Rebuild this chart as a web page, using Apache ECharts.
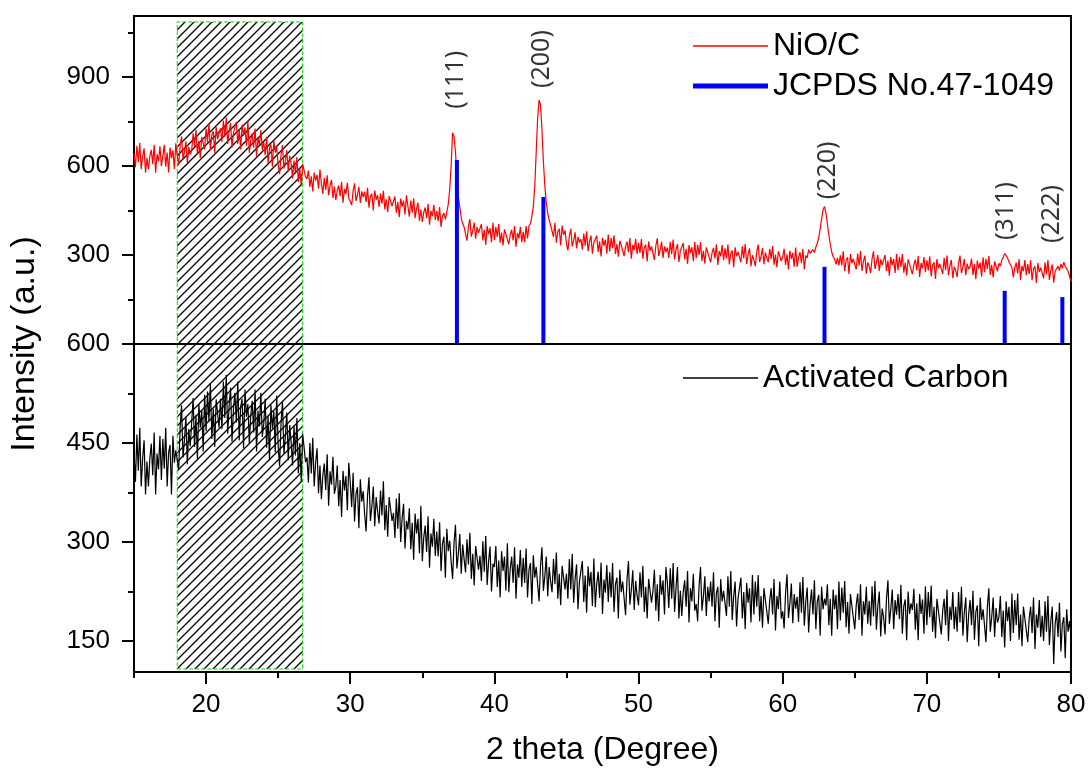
<!DOCTYPE html>
<html>
<head>
<meta charset="utf-8">
<script src="https://cdn.jsdelivr.net/npm/echarts@6/dist/echarts.min.js"></script>
<style>
  html, body { margin: 0; padding: 0; background: #fff; }
  #main { width: 1091px; height: 774px; }
</style>
</head>
<body>
<div id="main"></div>
<script>
// 2 theta sampling of the scans
var thetaStart = 15, thetaStep = 0.1;

// NiO/C scan, 15.0 .. 80.0 (one row per degree)
var nioC = [
  642, 596, 668, 613, 678, 589, 632, 659, 577, 627,
  589, 632, 654, 606, 671, 577, 639, 615, 666, 599,
  633, 671, 597, 645, 578, 662, 626, 652, 590, 676,
  633, 602, 667, 700, 621, 647, 683, 611, 664, 638,
  650, 710, 665, 722, 638, 684, 626, 698, 677, 655,
  726, 681, 743, 654, 705, 717, 642, 731, 690, 709,
  727, 681, 753, 698, 763, 674, 717, 744, 662, 712,
  710, 748, 674, 722, 655, 739, 703, 729, 667, 753,
  644, 687, 709, 661, 726, 632, 694, 670, 721, 654,
  681, 636, 698, 609, 660, 672, 597, 686, 645, 664,
  603, 572, 637, 670, 591, 617, 653, 581, 634, 608,
  558, 618, 573, 630, 546, 592, 534, 606, 585, 563,
  556, 584, 529, 565, 514, 577, 550, 570, 523, 588,
  541, 506, 560, 519, 568, 501, 533, 553, 492, 530,
  485, 517, 534, 498, 546, 476, 523, 505, 543, 492,
  491, 468, 516, 541, 482, 502, 529, 475, 514, 495,
  513, 479, 526, 459, 497, 506, 450, 517, 486, 501,
  462, 507, 473, 516, 453, 487, 444, 498, 482, 465,
  469, 497, 442, 478, 427, 490, 463, 483, 436, 501,
  464, 429, 483, 442, 491, 424, 456, 476, 415, 453,
  411, 443, 460, 424, 472, 402, 449, 431, 469, 418,
  448, 414, 461, 394, 432, 441, 420, 445, 470, 520,
  600, 712, 698, 648, 566, 495, 462, 425, 405, 394,
  371, 348, 396, 421, 362, 382, 409, 355, 394, 375,
  376, 404, 349, 385, 334, 397, 370, 390, 343, 408,
  350, 395, 361, 404, 341, 375, 332, 386, 370, 353,
  336, 368, 385, 349, 397, 327, 374, 356, 394, 343,
  378, 343, 397, 356, 398, 405, 430, 462, 530, 645,
  760, 822, 805, 722, 615, 532, 476, 441, 418, 400,
  395, 361, 408, 341, 379, 388, 332, 399, 368, 383,
  338, 315, 363, 388, 329, 349, 376, 322, 361, 342,
  353, 318, 372, 331, 380, 313, 345, 365, 304, 342,
  337, 365, 310, 346, 295, 358, 331, 351, 304, 369,
  312, 357, 323, 366, 303, 337, 294, 348, 332, 315,
  296, 328, 345, 309, 357, 287, 334, 316, 354, 303,
  341, 307, 354, 287, 325, 334, 278, 345, 314, 329,
  306, 283, 331, 356, 297, 317, 344, 290, 329, 310,
  325, 290, 344, 303, 352, 285, 317, 337, 276, 314,
  312, 340, 285, 321, 270, 333, 306, 326, 279, 344,
  289, 334, 300, 343, 280, 314, 271, 325, 309, 292,
  275, 307, 324, 288, 336, 266, 313, 295, 333, 282,
  322, 288, 335, 268, 306, 315, 259, 326, 295, 310,
  310, 275, 329, 288, 337, 270, 302, 322, 261, 299,
  285, 262, 310, 335, 276, 296, 323, 269, 308, 289,
  276, 321, 287, 330, 267, 301, 258, 312, 296, 279,
  293, 321, 266, 302, 251, 314, 287, 307, 260, 325,
  260, 292, 309, 273, 321, 251, 298, 290, 318, 305,
  302, 318, 308, 326, 340, 358, 388, 421, 452, 463,
  442, 405, 368, 336, 310, 294, 286, 268, 290, 265,
  299, 265, 312, 245, 283, 292, 236, 303, 272, 287,
  286, 251, 305, 264, 313, 246, 278, 298, 237, 275,
  262, 239, 287, 312, 253, 273, 300, 246, 285, 266,
  272, 300, 245, 281, 230, 293, 266, 286, 239, 304,
  249, 294, 260, 303, 240, 274, 231, 285, 269, 252,
  235, 267, 284, 248, 296, 226, 273, 255, 293, 242,
  282, 248, 295, 228, 266, 275, 219, 286, 255, 270,
  271, 236, 290, 249, 298, 231, 263, 283, 222, 260,
  248, 225, 273, 298, 239, 259, 286, 232, 271, 252,
  260, 288, 233, 269, 218, 281, 254, 274, 227, 292,
  242, 287, 253, 296, 233, 267, 224, 278, 262, 245,
  272, 262, 283, 292, 305, 299, 290, 276, 270, 258,
  225, 257, 274, 238, 286, 216, 263, 245, 283, 232,
  269, 235, 282, 215, 253, 262, 206, 273, 242, 257,
  256, 221, 275, 234, 283, 216, 248, 268, 207, 245,
  240, 262, 247, 270, 255, 276, 262, 268, 245, 228,
  210
];

// Activated carbon scan, 15.0 .. 80.0
var carbon = [
  437, 391, 463, 408, 473, 384, 427, 454, 372, 422,
  384, 427, 449, 401, 466, 372, 434, 410, 461, 394,
  456, 411, 473, 384, 435, 447, 372, 461, 420, 439,
  440, 409, 474, 507, 428, 454, 490, 418, 471, 445,
  480, 518, 444, 492, 425, 509, 473, 499, 437, 523,
  468, 528, 483, 540, 456, 502, 444, 516, 495, 473,
  517, 471, 543, 488, 553, 464, 507, 534, 452, 502,
  526, 481, 543, 454, 505, 517, 442, 531, 490, 509,
  449, 492, 514, 466, 531, 437, 499, 475, 526, 459,
  479, 517, 443, 491, 424, 508, 472, 498, 436, 522,
  446, 415, 480, 513, 434, 460, 496, 424, 477, 451,
  416, 476, 431, 488, 404, 450, 392, 464, 443, 421,
  428, 390, 450, 404, 458, 384, 420, 442, 374, 416,
  365, 401, 419, 379, 433, 355, 407, 387, 429, 373,
  384, 416, 354, 394, 338, 408, 378, 400, 348, 420,
  391, 353, 405, 331, 373, 383, 321, 395, 361, 377,
  342, 316, 370, 398, 332, 354, 384, 324, 368, 346,
  328, 378, 340, 392, 318, 356, 308, 368, 350, 332,
  344, 306, 366, 320, 374, 300, 336, 358, 290, 332,
  319, 351, 289, 329, 273, 343, 313, 335, 283, 355,
  271, 307, 325, 285, 339, 261, 313, 293, 335, 279,
  316, 278, 330, 256, 298, 308, 246, 320, 286, 302,
  270, 244, 298, 326, 260, 282, 312, 252, 296, 274,
  254, 304, 266, 314, 244, 282, 234, 294, 276, 258,
  279, 241, 301, 255, 309, 235, 271, 293, 225, 267,
  262, 294, 232, 272, 216, 286, 256, 278, 226, 298,
  224, 260, 278, 238, 292, 214, 266, 246, 288, 232,
  276, 238, 290, 216, 258, 268, 206, 280, 246, 262,
  236, 210, 264, 292, 226, 248, 278, 218, 262, 240,
  224, 274, 236, 284, 214, 252, 204, 264, 246, 228,
  252, 214, 274, 228, 282, 208, 244, 266, 198, 240,
  239, 271, 209, 249, 193, 263, 233, 255, 203, 275,
  201, 237, 255, 215, 269, 191, 243, 223, 265, 209,
  254, 216, 268, 194, 236, 246, 184, 258, 224, 240,
  215, 189, 243, 271, 205, 227, 257, 197, 241, 219,
  204, 254, 216, 264, 194, 232, 184, 244, 226, 208,
  226, 258, 196, 236, 180, 250, 220, 242, 190, 262,
  238, 200, 260, 214, 268, 194, 230, 262, 184, 226,
  188, 224, 242, 202, 256, 178, 230, 210, 252, 196,
  206, 180, 234, 262, 196, 218, 248, 188, 232, 210,
  240, 202, 254, 180, 222, 232, 170, 244, 210, 226,
  226, 188, 248, 202, 256, 182, 218, 240, 172, 214,
  214, 246, 184, 224, 168, 238, 208, 230, 178, 250,
  190, 240, 202, 250, 180, 218, 170, 230, 212, 194,
  176, 212, 230, 190, 244, 166, 218, 198, 240, 184,
  195, 169, 223, 251, 185, 207, 237, 177, 221, 199,
  217, 179, 239, 193, 247, 173, 209, 231, 163, 205,
  228, 190, 242, 168, 210, 220, 158, 232, 198, 214,
  204, 236, 174, 214, 158, 228, 198, 220, 168, 240,
  181, 231, 193, 241, 171, 209, 161, 221, 203, 185,
  168, 204, 222, 182, 236, 158, 210, 190, 232, 176,
  211, 173, 233, 187, 241, 167, 203, 225, 157, 199,
  186, 160, 214, 242, 176, 198, 228, 168, 212, 190,
  221, 183, 235, 161, 203, 213, 151, 225, 191, 207,
  197, 229, 167, 207, 151, 221, 191, 213, 161, 233,
  174, 224, 186, 234, 164, 202, 154, 214, 196, 178,
  160, 196, 214, 174, 228, 150, 202, 182, 224, 168,
  202, 164, 224, 178, 232, 158, 194, 216, 148, 190,
  212, 174, 226, 152, 194, 204, 142, 216, 182, 198,
  174, 148, 202, 230, 164, 186, 216, 156, 200, 178,
  186, 218, 156, 196, 140, 210, 180, 202, 150, 222,
  162, 212, 174, 222, 152, 190, 142, 202, 184, 166,
  148, 184, 202, 162, 216, 138, 190, 170, 212, 156,
  188, 150, 210, 164, 218, 144, 180, 202, 115, 176,
  194, 156, 208, 134, 176, 186, 124, 198, 164, 180,
  158
];

// JCPDS No.47-1049 reference lines
var pdfAngles = [37.4, 43.4, 62.9, 75.4, 79.4];
var pdfIntensity = [620, 495, 260, 179, 158];

// (hkl) annotations
var hklNames = ['(111)', '(200)', '(220)', '(311)', '(222)'];
var hklAngles = [37.3, 43.3, 63.1, 75.5, 78.7];
var hklIntensity = [890, 960, 585, 448, 438];

// amorphous carbon hump region
var humpFrom = 18, humpTo = 26.7;

// ticks
var xMajor = [20, 30, 40, 50, 60, 70, 80];
var xMinor = [15, 25, 35, 45, 55, 65, 75];
var topMajor = [300, 600, 900];
var topMinor = [150, 450, 750, 1050];
var botMajor = [150, 300, 450, 600];
var botMinor = [225, 375, 525];

var FONT = "'Liberation Sans', Arial, sans-serif";

function toPairs(values) {
  return values.map(function (v, i) {
    return [+(thetaStart + i * thetaStep).toFixed(1), v];
  });
}

function hatchTile() {
  var c = document.createElement('canvas');
  c.width = 9; c.height = 9;
  var g = c.getContext('2d');
  g.strokeStyle = '#000';
  g.lineWidth = 1.3;
  g.beginPath();
  g.moveTo(-1, 10); g.lineTo(10, -1);
  g.moveTo(-2, 2); g.lineTo(2, -2);
  g.moveTo(7, 11); g.lineTo(11, 7);
  g.stroke();
  return c;
}
var hatchStyle = {
  color: { image: hatchTile(), repeat: 'repeat' },
  borderColor: '#00dd00',
  borderWidth: 1,
  borderType: 'dashed'
};

var chart = echarts.init(document.getElementById('main'), null, { renderer: 'canvas' });

var tickStyle = { color: '#000', width: 2 };

function minorAxis(grid, extra) {
  return Object.assign({
    type: 'value',
    gridIndex: grid,
    offset: 0,
    axisLine: { show: false },
    axisLabel: { show: false },
    splitLine: { show: false }
  }, extra);
}

var option = {
  animation: false,
  backgroundColor: '#fff',
  textStyle: { fontFamily: FONT, color: '#000' },
  grid: [
    { left: 134, top: 16, width: 937, height: 328, show: true, borderColor: '#000', borderWidth: 2 },
    { left: 134, top: 344, width: 937, height: 328, show: true, borderColor: '#000', borderWidth: 2 },
    { left: 134, top: 16, width: 937, height: 656 }
  ],
  legend: [
    {
      data: ['NiO/C'], left: 688, top: 25, icon: 'rect', itemWidth: 75, itemHeight: 1.5,
      selectedMode: false, textStyle: { fontSize: 32, color: '#000', fontFamily: FONT }
    },
    {
      data: ['JCPDS No.47-1049'], left: 688, top: 65, icon: 'rect', itemWidth: 75, itemHeight: 5,
      selectedMode: false, textStyle: { fontSize: 32, color: '#000', fontFamily: FONT }
    },
    {
      data: ['Activated Carbon'], left: 678, top: 357, icon: 'rect', itemWidth: 75, itemHeight: 1.5,
      selectedMode: false, textStyle: { fontSize: 32, color: '#000', fontFamily: FONT }
    }
  ],
  xAxis: [
    {
      type: 'value', gridIndex: 0, min: 15, max: 80, z: 10,
      axisLine: { lineStyle: { color: '#000', width: 2 } },
      axisTick: { show: false }, axisLabel: { show: false }, splitLine: { show: false }
    },
    {
      type: 'value', gridIndex: 1, position: 'bottom', min: 15, max: 80,
      axisLine: { lineStyle: { color: '#000', width: 2 } },
      axisTick: { show: true, length: 12, lineStyle: tickStyle, customValues: xMajor },
      axisLabel: { fontSize: 26, color: '#000', margin: 20, customValues: xMajor },
      splitLine: { show: false },
      name: '2 theta (Degree)', nameLocation: 'middle', nameGap: 62,
      nameTextStyle: { fontSize: 32, color: '#000' }
    },
    minorAxis(1, {
      position: 'bottom', min: 15, max: 80,
      axisTick: { show: true, length: 6, lineStyle: tickStyle, customValues: xMinor }
    }),
    {
      type: 'value', gridIndex: 2, min: 15, max: 80, show: false
    }
  ],
  yAxis: [
    {
      type: 'value', gridIndex: 0, position: 'left', min: 0, max: 1105,
      axisLine: { lineStyle: { color: '#000', width: 2 } },
      axisTick: { show: true, length: 12, lineStyle: tickStyle, customValues: topMajor },
      axisLabel: { fontSize: 26, color: '#000', margin: 24, customValues: topMajor },
      splitLine: { show: false }
    },
    minorAxis(0, {
      position: 'left', min: 0, max: 1105,
      axisTick: { show: true, length: 6, lineStyle: tickStyle, customValues: topMinor }
    }),
    {
      type: 'value', gridIndex: 1, position: 'left', min: 103, max: 600,
      axisLine: { lineStyle: { color: '#000', width: 2 } },
      axisTick: { show: true, length: 12, lineStyle: tickStyle, customValues: botMajor },
      axisLabel: { fontSize: 26, color: '#000', margin: 24, customValues: botMajor },
      splitLine: { show: false }
    },
    minorAxis(1, {
      position: 'left', min: 103, max: 600,
      axisTick: { show: true, length: 6, lineStyle: tickStyle, customValues: botMinor }
    }),
    {
      type: 'value', gridIndex: 2, position: 'left', min: 0, max: 1,
      axisLine: { show: false }, axisTick: { show: false }, axisLabel: { show: false },
      splitLine: { show: false },
      name: 'Intensity (a.u.)', nameLocation: 'middle', nameGap: 98,
      nameTextStyle: { fontSize: 34, color: '#000' }
    }
  ],
  series: [
    {
      name: 'NiO/C', type: 'line', xAxisIndex: 0, yAxisIndex: 0,
      data: toPairs(nioC), showSymbol: false, symbol: 'none',
      lineStyle: { color: '#ff0000', width: 1.2 }, itemStyle: { color: '#ff0000' }, z: 2
    },
    {
      name: 'JCPDS No.47-1049', type: 'bar', xAxisIndex: 0, yAxisIndex: 0,
      data: pdfAngles.map(function (a, i) { return [a, pdfIntensity[i]]; }),
      barWidth: 4, itemStyle: { color: '#0000ff' }, z: 3
    },
    {
      name: 'hkl', type: 'scatter', xAxisIndex: 0, yAxisIndex: 0, symbolSize: 0,
      data: hklNames.map(function (n, i) { return { name: n, value: [hklAngles[i], hklIntensity[i]] }; }),
      label: {
        show: true, position: 'inside', rotate: 90, formatter: '{b}',
        fontSize: 25, color: '#000', fontFamily: "'Noto Sans', sans-serif"
      },
      z: 4
    },
    {
      name: 'Activated Carbon', type: 'line', xAxisIndex: 1, yAxisIndex: 2,
      data: toPairs(carbon), showSymbol: false, symbol: 'none',
      lineStyle: { color: '#000', width: 1.2 }, itemStyle: { color: '#000' }, z: 2
    },
    {
      name: 'hump-top', type: 'line', xAxisIndex: 0, yAxisIndex: 0, data: [], z: 5,
      markArea: {
        silent: true, itemStyle: hatchStyle,
        data: [[{ xAxis: humpFrom, yAxis: 0 }, { xAxis: humpTo, yAxis: 1085 }]]
      }
    },
    {
      name: 'hump-bottom', type: 'line', xAxisIndex: 1, yAxisIndex: 2, data: [], z: 5,
      markArea: {
        silent: true, itemStyle: hatchStyle,
        data: [[{ xAxis: humpFrom, yAxis: 107.6 }, { xAxis: humpTo, yAxis: 600 }]]
      }
    }
  ]
};

chart.setOption(option);
</script>
</body>
</html>
